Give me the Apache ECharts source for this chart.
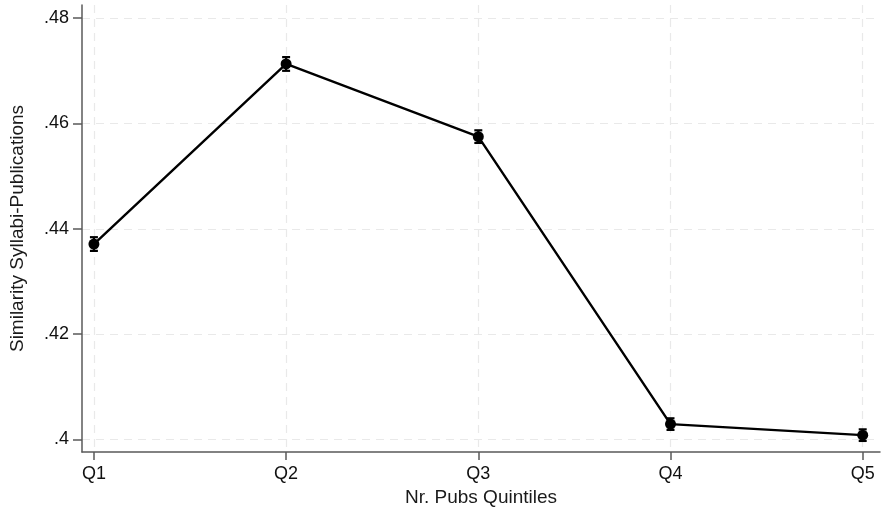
<!DOCTYPE html>
<html>
<head>
<meta charset="utf-8">
<script src="https://cdn.jsdelivr.net/npm/echarts@6/dist/echarts.min.js"></script>
<style>
  html, body { margin: 0; padding: 0; background: #fff; }
  #chart { width: 882px; height: 514px; }
</style>
</head>
<body>
<div id="chart"></div>
<script>
// Quintile categories and mean similarity with confidence half-widths
const categories = ['Q1', 'Q2', 'Q3', 'Q4', 'Q5'];
const meanValues = [0.4371, 0.4713, 0.4575, 0.4029, 0.4008];
const ciHalfWidth = [0.0013, 0.0013, 0.0012, 0.0011, 0.0011];
const yTicks = [0.40, 0.42, 0.44, 0.46, 0.48];
const yTickLabels = ['.4', '.42', '.44', '.46', '.48'];

const xIdx = categories.map((c, i) => i);
const lineData = meanValues.map((v, i) => [i, v]);
const barData = meanValues.map((v, i) => [i, v - ciHalfWidth[i], v + ciHalfWidth[i]]);

const font = '"Liberation Sans", Arial, sans-serif';
const axisColor = '#5a5a5a';
const gridLine = { show: true, lineStyle: { color: '#e9e9e9', type: [8, 6], width: 1.2 } };

const chart = echarts.init(document.getElementById('chart'), null, { renderer: 'canvas' });
chart.setOption({
  animation: false,
  backgroundColor: '#fff',
  grid: { left: 82, right: 2, top: 5, bottom: 62, outerBoundsMode: 'none', containLabel: false },
  xAxis: {
    type: 'value',
    min: -0.062,
    max: 4.09,
    name: 'Nr. Pubs Quintiles',
    nameLocation: 'middle',
    nameGap: 34,
    nameTextStyle: { fontFamily: font, fontSize: 19, color: '#1a1a1a' },
    axisLine: { show: true, onZero: false, lineStyle: { color: axisColor, width: 1.5 } },
    axisTick: { show: true, customValues: xIdx, length: 8, lineStyle: { color: axisColor, width: 1.5 } },
    axisLabel: {
      customValues: xIdx, margin: 13,
      fontFamily: font, fontSize: 18, color: '#111',
      formatter: v => categories[Math.round(v)]
    },
    splitLine: gridLine
  },
  yAxis: {
    type: 'value',
    min: 0.3976,
    max: 0.4825,
    name: 'Similarity Syllabi-Publications',
    nameLocation: 'middle',
    nameGap: 55,
    nameTextStyle: { fontFamily: font, fontSize: 19, color: '#1a1a1a' },
    axisLine: { show: true, onZero: false, lineStyle: { color: axisColor, width: 1.5 } },
    axisTick: { show: true, customValues: yTicks, length: 9, lineStyle: { color: axisColor, width: 1.5 } },
    axisLabel: {
      customValues: yTicks, margin: 13,
      fontFamily: font, fontSize: 18, color: '#111',
      formatter: v => yTickLabels[yTicks.findIndex(t => Math.abs(t - v) < 1e-6)]
    },
    splitLine: gridLine
  },
  series: [
    {
      type: 'line',
      data: lineData,
      symbol: 'circle',
      symbolSize: 11,
      itemStyle: { color: '#000' },
      lineStyle: { color: '#000', width: 2.4 },
      z: 3
    },
    {
      type: 'custom',
      data: barData,
      z: 4,
      renderItem: (params, api) => {
        const x = api.value(0);
        const lo = api.coord([x, api.value(1)]);
        const hi = api.coord([x, api.value(2)]);
        const cap = 4;
        const style = { stroke: '#000', lineWidth: 2.2 };
        return {
          type: 'group',
          children: [
            { type: 'line', shape: { x1: lo[0], y1: lo[1], x2: hi[0], y2: hi[1] }, style },
            { type: 'line', shape: { x1: lo[0] - cap, y1: lo[1], x2: lo[0] + cap, y2: lo[1] }, style },
            { type: 'line', shape: { x1: hi[0] - cap, y1: hi[1], x2: hi[0] + cap, y2: hi[1] }, style }
          ]
        };
      }
    }
  ]
});
</script>
</body>
</html>
